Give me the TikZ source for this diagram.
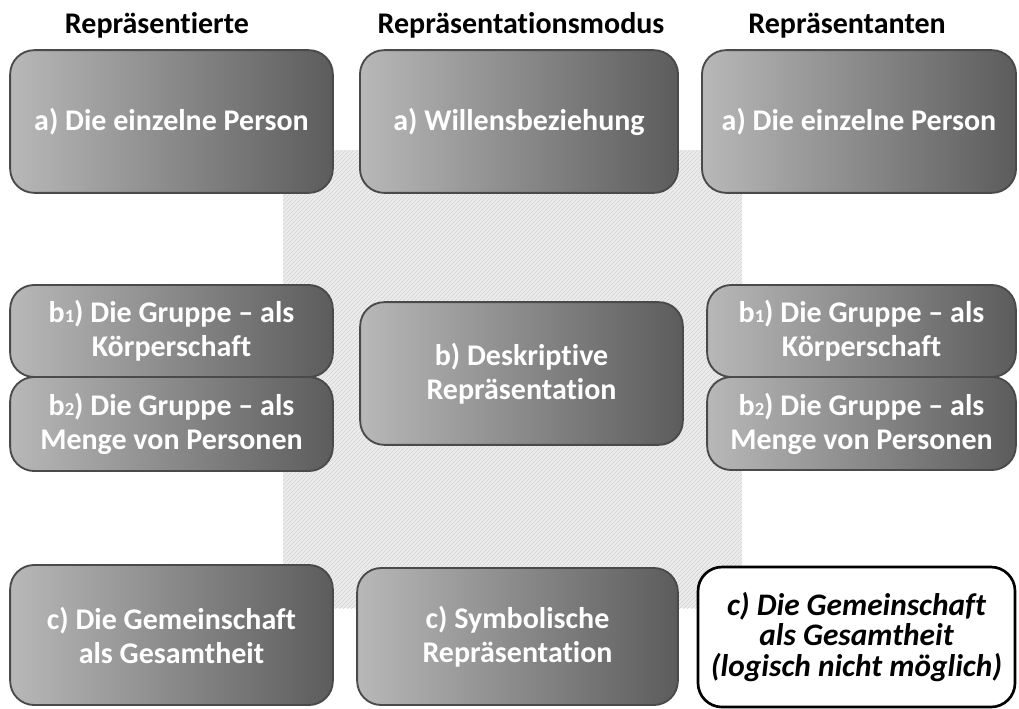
\documentclass[tikz,border=0pt]{standalone}
\usepackage{fontspec}
\setmainfont[Ligatures=NoCommon]{Carlito}
\usetikzlibrary{patterns}
\definecolor{boxlight}{HTML}{B8B8B8}
\definecolor{boxdark}{HTML}{5C5C5C}
\definecolor{boxline}{HTML}{4A4A4A}
\newcommand{\lowidx}[1]{{\fontsize{14}{14}\selectfont #1}}
\tikzset{
  greybox/.style={rounded corners=18pt, draw=boxline, line width=1.4pt,
    left color=boxlight, right color=boxdark, text=white,
    font=\fontsize{22.5}{25.5}\selectfont\bfseries, align=center, inner sep=0pt},
  whitebox/.style={rounded corners=18pt, draw=black, line width=2pt, fill=white,
    font=\fontsize{23.5}{23}\selectfont\bfseries\itshape, align=center, inner sep=0pt},
  heading/.style={font=\fontsize{22.5}{26}\selectfont\bfseries, inner sep=0pt, anchor=base}
}
\begin{document}
\begin{tikzpicture}[x=0.75pt, y=-0.75pt]
    \useasboundingbox (0,0) rectangle (1019,708);

    % hatched field behind the middle column
    \fill[gray!14] (283,150) rectangle (742,608);
    \fill[pattern=north east lines, pattern color=gray!35] (283,150) rectangle (742,608);

    \node[heading] (hLeft) at (157,33) {Repräsentierte};
    \node[heading] (hMid) at (521,33) {Repräsentationsmodus};
    \node[heading] (hRight) at (847,33) {Repräsentanten};

    % first row
    \node[greybox, minimum width=242pt, minimum height=107pt] (la) at (171.5,121.5) {a) Die einzelne Person};
    \node[greybox, minimum width=238.5pt, minimum height=107pt] (ma) at (519,121.5) {a) Willensbeziehung};
    \node[greybox, minimum width=235.5pt, minimum height=107pt] (ra) at (859,121.5) {a) Die einzelne Person};

    % second row
    \node[greybox, minimum width=242pt, minimum height=69pt] (lbone) at (171.5,331) {b\lowidx{1}) Die Gruppe -- als\\Körperschaft};
    \node[greybox, minimum width=242pt, minimum height=70.5pt] (lbtwo) at (171.5,424) {b\lowidx{2}) Die Gruppe -- als\\Menge von Personen};
    \node[greybox, minimum width=242pt, minimum height=107pt] (mb) at (521.5,373.5) {b) Deskriptive\\Repräsentation};
    \node[greybox, minimum width=231.5pt, minimum height=69pt] (rbone) at (861.5,331) {b\lowidx{1}) Die Gruppe -- als\\Körperschaft};
    \node[greybox, minimum width=231.5pt, minimum height=69.75pt] (rbtwo) at (861.5,423.5) {b\lowidx{2}) Die Gruppe -- als\\Menge von Personen};

    % third row
    \node[greybox, minimum width=242pt, minimum height=105pt] (lc) at (171.5,635) {c) Die Gemeinschaft\\als Gesamtheit};
    \node[greybox, minimum width=240.5pt, minimum height=102.75pt] (mc) at (517.5,636.5) {c) Symbolische\\Repräsentation};
    \node[whitebox, minimum width=237.75pt, minimum height=105pt] (rc) at (856.5,637) {c) Die Gemeinschaft\\als Gesamtheit\\(logisch nicht möglich)};
\end{tikzpicture}
\end{document}
